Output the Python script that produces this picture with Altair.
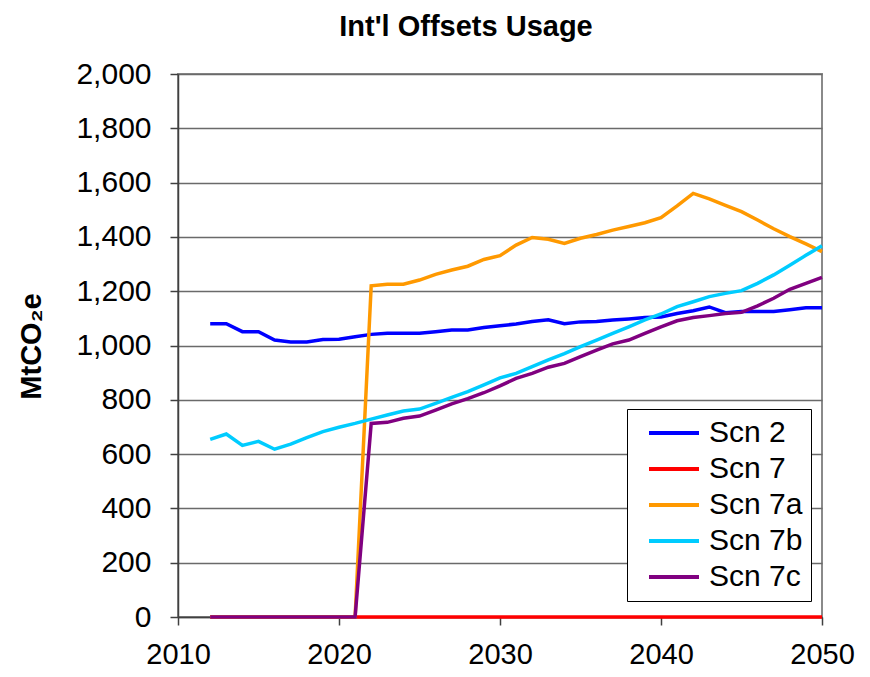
import altair as alt
import pandas as pd

years = list(range(2012, 2051))

scn2 = [1080, 1080, 1051, 1051, 1020, 1013, 1013, 1022, 1023, 1032,
        1041, 1045, 1045, 1045, 1051, 1057, 1057, 1066, 1073, 1079,
        1088, 1095, 1080, 1087, 1088, 1094, 1098, 1103, 1105, 1118,
        1128, 1142, 1121, 1125, 1125, 1125, 1132, 1139, 1139]
scn7 = [0, 0, 0, 0, 0, 0, 0, 0, 0, 0,
        0, 0, 0, 0, 0, 0, 0, 0, 0, 0,
        0, 0, 0, 0, 0, 0, 0, 0, 0, 0,
        0, 0, 0, 0, 0, 0, 0, 0, 0]
scn7a = [0, 0, 0, 0, 0, 0, 0, 0, 0, 0,
         1220, 1226, 1226, 1241, 1262, 1278, 1292, 1317, 1331, 1370,
         1398, 1391, 1376, 1395, 1409, 1425, 1438, 1452, 1471, 1514,
         1560, 1540, 1516, 1493, 1462, 1430, 1401, 1374, 1346]
scn7b = [654, 674, 632, 647, 618, 637, 661, 683, 699, 713,
         729, 744, 759, 766, 787, 809, 830, 855, 881, 897,
         922, 947, 970, 996, 1020, 1045, 1069, 1094, 1116, 1143,
         1161, 1180, 1192, 1202, 1229, 1260, 1296, 1332, 1367]
scn7c = [0, 0, 0, 0, 0, 0, 0, 0, 0, 0,
         713, 717, 732, 740, 762, 785, 804, 826, 851, 879,
         897, 920, 934, 959, 983, 1006, 1020, 1045, 1069, 1091,
         1103, 1110, 1118, 1122, 1146, 1174, 1207, 1229, 1251]

series_names = ["Scn 2", "Scn 7", "Scn 7a", "Scn 7b", "Scn 7c"]
series_values = [scn2, scn7, scn7a, scn7b, scn7c]
series_colors = ["#0000FF", "#FF0000", "#FF9900", "#00CCFF", "#800080"]

x_ticks = [2010, 2020, 2030, 2040, 2050]
y_ticks = [0, 200, 400, 600, 800, 1000, 1200, 1400, 1600, 1800, 2000]

rows = []
for name, vals in zip(series_names, series_values):
    for yr, v in zip(years, vals):
        rows.append({"Year": yr, "Value": v, "Series": name})
df = pd.DataFrame(rows)

FONT = "Liberation Sans"

chart = alt.Chart(df).mark_line(strokeWidth=3.5, clip=False).encode(
    x=alt.X("Year:Q",
            scale=alt.Scale(domain=[2010, 2050], nice=False, zero=False),
            axis=alt.Axis(values=x_ticks, format="d", title=None, grid=False,
                          labelFontSize=29, labelPadding=15, tickSize=8,
                          labelFlush=False, labelOverlap=False)),
    y=alt.Y("Value:Q",
            scale=alt.Scale(domain=[0, 2000], nice=False),
            axis=alt.Axis(values=y_ticks, format=",d", title="MtCO₂e",
                          labelFontSize=30, labelPadding=19, tickSize=8,
                          grid=True, titleFontSize=29, titleFontWeight="bold",
                          titleX=-147, titleY=272, titleAngle=270,
                          titleAlign="center", titleBaseline="middle")),
    color=alt.Color("Series:N",
                    scale=alt.Scale(domain=series_names, range=series_colors),
                    legend=alt.Legend(title=None, orient="none",
                                      legendX=449, legendY=335,
                                      symbolType="stroke", symbolSize=2500,
                                      symbolStrokeWidth=4, labelFontSize=30,
                                      labelOffset=8, clipHeight=32, rowPadding=4,
                                      padding=8, symbolOffset=12,
                                      labelExpr="datum.label + '\u00a0\u00a0'",
                                      strokeColor="black", fillColor="white",
                                      labelColor="black")),
).properties(
    width=644,
    height=543,
    autosize=alt.AutoSizeParams(type="none"),
    padding={"left": 170, "top": 66, "right": 40, "bottom": 52},
    title=alt.TitleParams("Int'l Offsets Usage", fontSize=29, fontWeight="bold",
                          anchor="middle", dx=-34, offset=17, color="black"),
).configure(
    font=FONT,
).configure_axis(
    labelColor="black",
    titleColor="black",
    domainColor="#404040",
    domainWidth=1.5,
    tickColor="#404040",
    tickWidth=1.5,
    gridColor="#6a6a6a",
    gridWidth=1.3,
).configure_view(
    stroke="#8a8a8a",
    strokeWidth=2,
)

chart.save("out.html", embed_options={"renderer": "svg", "actions": False})
